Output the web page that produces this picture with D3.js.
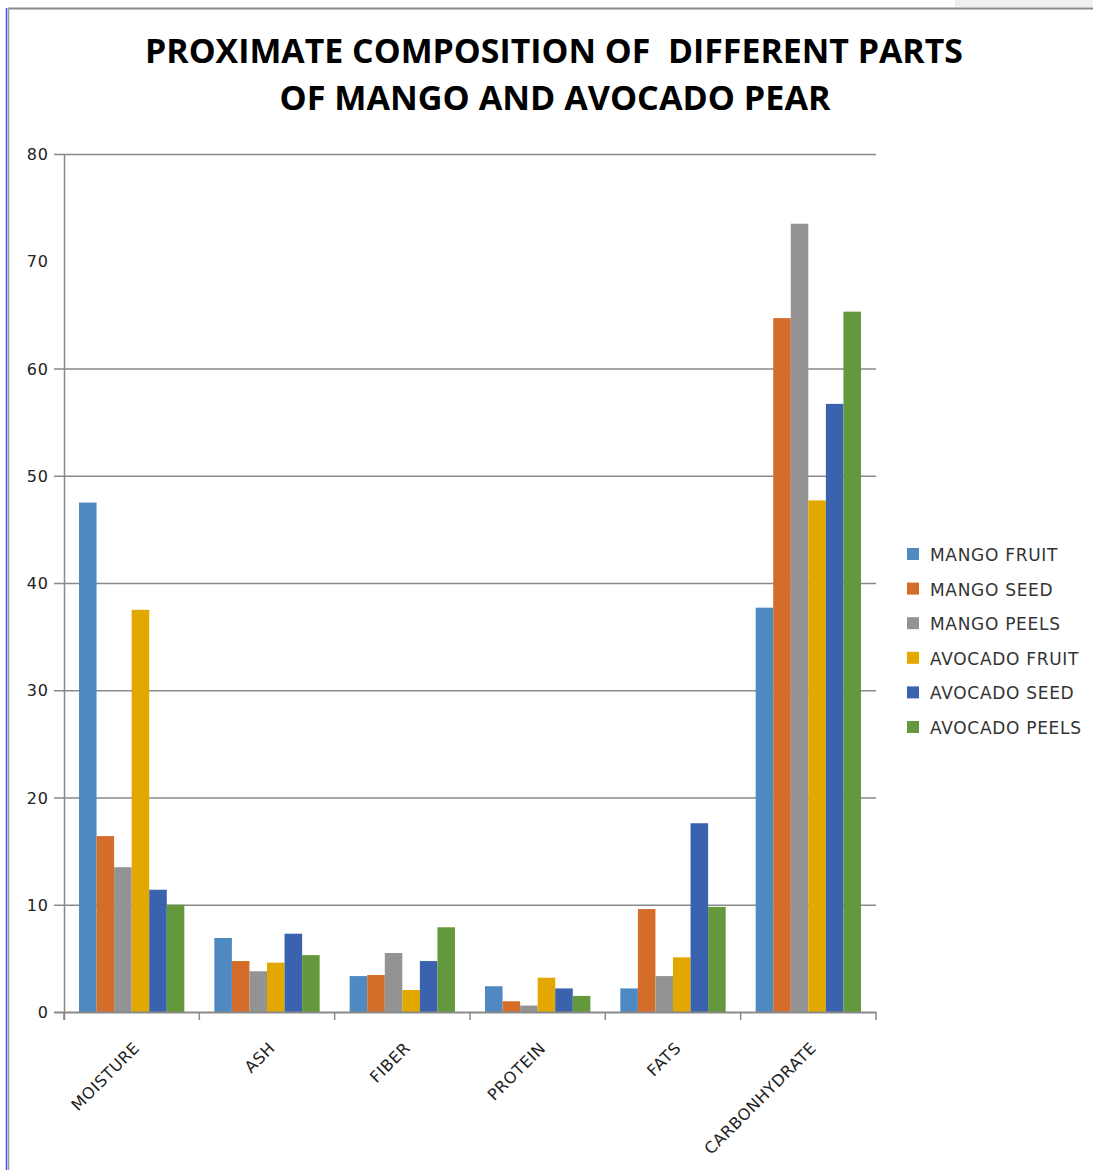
<!DOCTYPE html>
<html>
<head>
<meta charset="utf-8">
<script src="https://cdn.jsdelivr.net/npm/d3@7"></script>
<style>
  body { margin: 0; background: #fff; }
  svg { display: block; }
</style>
</head>
<body>
<svg id="chart"></svg>
<script>
// data
const categories = ['MOISTURE', 'ASH', 'FIBER', 'PROTEIN', 'FATS', 'CARBONHYDRATE'];
const seriesNames = ['MANGO FRUIT', 'MANGO SEED', 'MANGO PEELS', 'AVOCADO FRUIT', 'AVOCADO SEED', 'AVOCADO PEELS'];
const mangoFruit   = [47.5, 6.9, 3.35, 2.4, 2.2, 37.7];
const mangoSeed    = [16.4, 4.75, 3.45, 1.0, 9.6, 64.7];
const mangoPeels   = [13.5, 3.8, 5.5, 0.6, 3.35, 73.5];
const avocadoFruit = [37.5, 4.6, 2.05, 3.2, 5.1, 47.7];
const avocadoSeed  = [11.4, 7.3, 4.75, 2.2, 17.6, 56.7];
const avocadoPeels = [10.0, 5.3, 7.9, 1.5, 9.8, 65.3];
const yTicks = [0, 10, 20, 30, 40, 50, 60, 70, 80];
const titleLines = ['PROXIMATE COMPOSITION OF  DIFFERENT PARTS', 'OF MANGO AND AVOCADO PEAR'];

const seriesValues = [mangoFruit, mangoSeed, mangoPeels, avocadoFruit, avocadoSeed, avocadoPeels];
const colors = ['#4f89c2', '#d56d2a', '#939393', '#e3a800', '#3a62af', '#64983c'];

const W = 1093, H = 1170;
const svg = d3.select('#chart').attr('width', W).attr('height', H);

// frame bits from the screenshot
svg.append('rect').attr('x', 955).attr('y', 0).attr('width', 138).attr('height', 7).attr('fill', '#f0f0f0');
svg.append('line').attr('x1', 8).attr('x2', W).attr('y1', 8.5).attr('y2', 8.5)
  .attr('stroke', '#8a8a8a').attr('stroke-width', 2);
svg.append('line').attr('x1', 6.5).attr('x2', 6.5).attr('y1', 8).attr('y2', H)
  .attr('stroke', '#4a4aff').attr('stroke-width', 1.5);
svg.append('line').attr('x1', 8.5).attr('x2', 8.5).attr('y1', 8).attr('y2', H)
  .attr('stroke', '#9a9a9a').attr('stroke-width', 1.5);

// title
const title = svg.append('g')
  .attr('font-family', '"Liberation Sans Narrow", "Open Sans", sans-serif')
  .attr('font-weight', 'bold')
  .attr('font-size', 34)
  .attr('fill', '#000');
title.append('text').attr('x', 554).attr('y', 63).attr('text-anchor', 'middle')
  .attr('textLength', 818).attr('lengthAdjust', 'spacingAndGlyphs')
  .style('white-space', 'pre').text(titleLines[0]);
title.append('text').attr('x', 555).attr('y', 110).attr('text-anchor', 'middle')
  .attr('textLength', 551).attr('lengthAdjust', 'spacingAndGlyphs')
  .text(titleLines[1]);

// plot area
const plotL = 64, plotR = 876, plotT = 154, plotB = 1012;

const x = d3.scaleBand().domain(categories).range([plotL, plotR]);
const xs = d3.scaleBand().domain(seriesNames)
  .range([15, x.bandwidth() - 15]);
const y = d3.scaleLinear().domain([0, 80]).range([plotB, plotT]);

// gridlines (no line shows at 70 in the original)
svg.append('g').selectAll('line')
  .data(yTicks.filter(d => d !== 0 && d !== 70))
  .join('line')
    .attr('x1', plotL - 10).attr('x2', plotR)
    .attr('y1', d => y(d) + 0.5).attr('y2', d => y(d) + 0.5)
    .attr('stroke', '#898989').attr('stroke-width', 1.5);

// y axis labels
svg.append('g')
  .attr('font-family', '"DejaVu Sans", sans-serif')
  .attr('font-size', 16)
  .attr('letter-spacing', 1)
  .attr('fill', '#222')
  .selectAll('text')
  .data(yTicks)
  .join('text')
    .attr('x', 49).attr('y', d => y(d) + 6)
    .attr('text-anchor', 'end')
    .text(d => d);

// bars
const groups = svg.append('g').selectAll('g')
  .data(categories)
  .join('g')
    .attr('transform', d => `translate(${x(d)},0)`);

groups.selectAll('rect')
  .data((c, i) => seriesNames.map((s, k) => ({ s, k, v: seriesValues[k][i] })))
  .join('rect')
    .attr('x', d => xs(d.s))
    .attr('width', xs.bandwidth())
    .attr('y', d => y(d.v))
    .attr('height', d => plotB - y(d.v))
    .attr('fill', d => colors[d.k]);

// axes lines
svg.append('line').attr('x1', plotL + 0.5).attr('x2', plotL + 0.5).attr('y1', plotT).attr('y2', plotB + 8)
  .attr('stroke', '#898989').attr('stroke-width', 1.5);
svg.append('line').attr('x1', plotL - 10).attr('x2', plotR).attr('y1', plotB + 0.5).attr('y2', plotB + 0.5)
  .attr('stroke', '#898989').attr('stroke-width', 2);
svg.append('g').selectAll('line')
  .data(categories.map(c => x(c)).concat([plotR]))
  .join('line')
    .attr('x1', d => d).attr('x2', d => d)
    .attr('y1', plotB).attr('y2', plotB + 8)
    .attr('stroke', '#898989').attr('stroke-width', 1.5);

// x labels
svg.append('g')
  .attr('font-family', '"DejaVu Sans", sans-serif')
  .attr('font-size', 16)
  .attr('letter-spacing', 0.6)
  .attr('fill', '#222')
  .selectAll('text')
  .data(categories)
  .join('text')
    .attr('text-anchor', 'end')
    .attr('transform', d => `translate(${x(d) + x.bandwidth() / 2 + 9},${plotB + 37}) rotate(-45)`)
    .text(d => d);

// legend
const legend = svg.append('g')
  .attr('font-family', '"DejaVu Sans", sans-serif')
  .attr('font-size', 17)
  .attr('letter-spacing', 0.7)
  .attr('fill', '#333')
  .selectAll('g')
  .data(seriesNames)
  .join('g')
    .attr('transform', (d, i) => `translate(907,${548 + i * 34.6})`);
legend.append('rect').attr('width', 12).attr('height', 12).attr('fill', (d, i) => colors[i]);
legend.append('text').attr('x', 23).attr('y', 13).text(d => d);
</script>
</body>
</html>
